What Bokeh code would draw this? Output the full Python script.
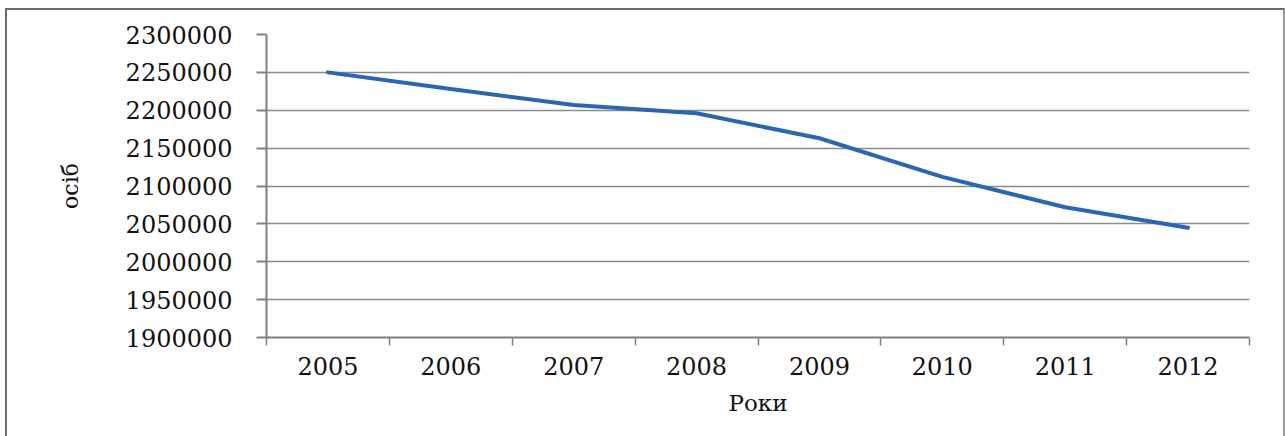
from bokeh.plotting import figure
from bokeh.models import FixedTicker, Range1d, ColumnDataSource
from bokeh.embed import file_html
from bokeh.resources import INLINE

years = ["2005", "2006", "2007", "2008", "2009", "2010", "2011", "2012"]
population = [2250000, 2228000, 2207000, 2196000, 2163000, 2112000, 2072000, 2045000]
y_ticks = [1900000, 1950000, 2000000, 2050000, 2100000, 2150000, 2200000, 2250000, 2300000]
y_title = "осіб"
x_title = "Роки"

xs = [i + 0.5 for i in range(len(years))]
src = ColumnDataSource(dict(x=xs, y=population, year=years))

p = figure(width=1276, height=428, output_backend="svg", toolbar_location=None,
           x_range=Range1d(0, len(years)), y_range=Range1d(y_ticks[0], y_ticks[-1]),
           min_border_left=259, min_border_top=24, min_border_right=34, min_border_bottom=101,
           frame_width=983, frame_height=303)
p.outline_line_color = None
p.background_fill_color = "white"
p.border_fill_color = "white"
p.styles = {"margin-left": "5px", "margin-top": "8px",
            "border-left": "2px solid #6a6a6a", "border-top": "2px solid #6a6a6a",
            "border-right": "2px solid #9a9a9a"}

p.line("x", "y", source=src, line_color="#2b66b3", line_width=4, line_cap="round")

font = "DejaVu Serif"
# y axis
p.yaxis.ticker = FixedTicker(ticks=y_ticks)
p.yaxis.axis_line_color = "#808080"
p.yaxis.axis_line_width = 2
p.yaxis.major_tick_out = 10
p.yaxis.major_tick_in = 0
p.yaxis.major_tick_line_color = "#808080"
p.yaxis.major_tick_line_width = 2
p.yaxis.minor_tick_line_color = None
p.yaxis.major_label_standoff = 24
p.yaxis.major_label_text_font = font
p.yaxis.major_label_text_font_size = "24px"
p.yaxis.major_label_text_color = "#111111"
p.yaxis.axis_label = y_title
p.yaxis.axis_label_text_font = font
p.yaxis.axis_label_text_font_size = "22px"
p.yaxis.axis_label_text_font_style = "normal"
p.yaxis.axis_label_text_color = "#111111"
p.yaxis.axis_label_standoff = 40
p.yaxis.formatter.use_scientific = False

# x axis
p.xaxis.ticker = FixedTicker(ticks=xs, minor_ticks=list(range(len(years) + 1)))
p.xaxis.major_label_overrides = {x: y for x, y in zip(xs, years)}
p.xaxis.axis_line_color = "#808080"
p.xaxis.axis_line_width = 2
p.xaxis.major_tick_out = 0
p.xaxis.major_tick_in = 0
p.xaxis.minor_tick_out = 8
p.xaxis.minor_tick_in = 0
p.xaxis.minor_tick_line_color = "#808080"
p.xaxis.minor_tick_line_width = 1.5
p.xaxis.major_label_standoff = 11
p.xaxis.major_label_text_font = font
p.xaxis.major_label_text_font_size = "24px"
p.xaxis.major_label_text_color = "#111111"
p.xaxis.axis_label = x_title
p.xaxis.axis_label_text_font = font
p.xaxis.axis_label_text_font_size = "23px"
p.xaxis.axis_label_text_font_style = "normal"
p.xaxis.axis_label_text_color = "#111111"
p.xaxis.axis_label_standoff = 12

p.xgrid.visible = False
p.ygrid.ticker = FixedTicker(ticks=y_ticks)
p.ygrid.grid_line_color = "#8c8c8c"
p.ygrid.grid_line_width = 1.5

open("out.html", "w").write(file_html(p, INLINE))
